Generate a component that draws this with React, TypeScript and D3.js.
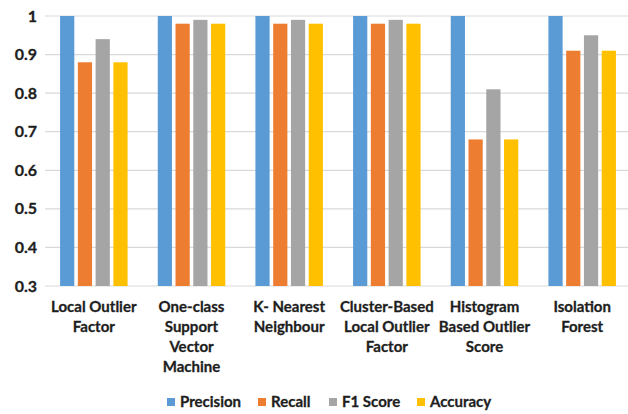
import React from "react";
import * as d3 from "d3";

const categories = [
  ["Local Outlier", "Factor"],
  ["One-class", "Support", "Vector", "Machine"],
  ["K- Nearest", "Neighbour"],
  ["Cluster-Based", "Local Outlier", "Factor"],
  ["Histogram", "Based Outlier", "Score"],
  ["Isolation", "Forest"],
];
const seriesNames = ["Precision", "Recall", "F1 Score", "Accuracy"];
const seriesColors = ["#5B9BD5", "#ED7D31", "#A5A5A5", "#FFC000"];
const precision = [1, 1, 1, 1, 1, 1];
const recall = [0.88, 0.98, 0.98, 0.98, 0.68, 0.91];
const f1Score = [0.94, 0.99, 0.99, 0.99, 0.81, 0.95];
const accuracy = [0.88, 0.98, 0.98, 0.98, 0.68, 0.91];
const yTicks = [0.3, 0.4, 0.5, 0.6, 0.7, 0.8, 0.9, 1];

const W = 628;
const H = 414;
const FONT = "Lato, 'Open Sans', sans-serif";
const TEXT = "#1e1e1e";

export default function App() {
  const series = [precision, recall, f1Score, accuracy];
  const x0 = d3
    .scaleBand<number>()
    .domain(categories.map((_, i) => i))
    .range([45, 631])
    .paddingInner(0)
    .paddingOuter(0);
  const y = d3.scaleLinear().domain([0.3, 1]).range([286, 16]);
  const groupW = 67.5;
  const x1 = d3
    .scaleBand<number>()
    .domain(seriesNames.map((_, i) => i))
    .range([0, groupW])
    .paddingInner(0.2)
    .paddingOuter(0);

  const legendX = [167, 258, 329, 417];
  const textStyle = {
    fontFamily: FONT,
    fontWeight: 700,
    fill: TEXT,
    stroke: TEXT,
    strokeWidth: 0.3,
  } as const;

  return (
    <svg
      width={W}
      height={H}
      style={{ position: "absolute", left: 0, top: 0, background: "#fff" }}
    >
      <rect width={W} height={H} fill="#fff" />
      {yTicks.map((t) => (
        <g key={t}>
          <line
            x1={45}
            x2={W}
            y1={y(t)}
            y2={y(t)}
            stroke="#D9D9D9"
            strokeWidth={1.2}
          />
          <text
            x={37}
            y={y(t)}
            dy="0.35em"
            textAnchor="end"
            fontSize={16}
            style={textStyle}
          >
            {t === 1 ? "1" : d3.format(".1f")(t)}
          </text>
        </g>
      ))}
      {categories.map((lines, ci) => {
        const gx = x0(ci)! + (x0.bandwidth() - groupW) / 2;
        const cx = x0(ci)! + x0.bandwidth() / 2;
        return (
          <g key={ci}>
            {series.map((vals, si) => (
              <rect
                key={si}
                x={gx + x1(si)!}
                y={y(vals[ci])}
                width={x1.bandwidth()}
                height={y(0.3) - y(vals[ci])}
                fill={seriesColors[si]}
              />
            ))}
            <text
              x={cx}
              y={307}
              textAnchor="middle"
              fontSize={15}
              style={textStyle}
            >
              {lines.map((l, li) => (
                <tspan key={li} x={cx} dy={li === 0 ? "0.35em" : 20}>
                  {l}
                </tspan>
              ))}
            </text>
          </g>
        );
      })}
      {seriesNames.map((name, i) => (
        <g key={name}>
          <rect
            x={legendX[i]}
            y={398}
            width={8}
            height={8}
            fill={seriesColors[i]}
          />
          <text
            x={legendX[i] + 13}
            y={402}
            dy="0.35em"
            fontSize={15}
            style={textStyle}
          >
            {name}
          </text>
        </g>
      ))}
    </svg>
  );
}
